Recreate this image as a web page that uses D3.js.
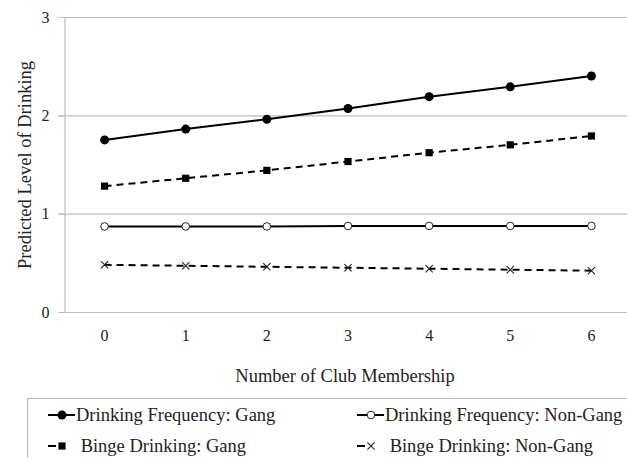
<!DOCTYPE html>
<html>
<head>
<meta charset="utf-8">
<script src="https://cdn.jsdelivr.net/npm/d3@7/dist/d3.min.js"></script>
<style>
  html, body { margin: 0; padding: 0; background: #fff; }
  svg { display: block; }
  text { font-family: "Liberation Serif", "Times New Roman", serif; fill: #222; }
</style>
</head>
<body>
<svg id="chart" width="627" height="458"></svg>
<script>
// Club membership counts on the x axis
const clubs = [0, 1, 2, 3, 4, 5, 6];
const yTicks = [0, 1, 2, 3];

// Predicted drinking levels per group
const freqGang    = [1.75, 1.86, 1.96, 2.07, 2.19, 2.29, 2.40];
const freqNonGang = [0.87, 0.87, 0.87, 0.875, 0.875, 0.875, 0.875];
const bingeGang   = [1.28, 1.36, 1.44, 1.53, 1.62, 1.70, 1.79];
const bingeNonGang= [0.48, 0.47, 0.46, 0.45, 0.44, 0.43, 0.42];

const seriesNames = [
  "Drinking Frequency: Gang",
  "Drinking Frequency: Non-Gang",
  "Binge Drinking: Gang",
  "Binge Drinking: Non-Gang"
];

const series = [
  { name: seriesNames[0], values: freqGang,     dash: null,  marker: "dot" },
  { name: seriesNames[1], values: freqNonGang,  dash: null,  marker: "ring" },
  { name: seriesNames[2], values: bingeGang,    dash: "7,5", marker: "square" },
  { name: seriesNames[3], values: bingeNonGang, dash: "7,5", marker: "cross" }
];

const svg = d3.select("#chart");
const plot = { left: 64, right: 632, top: 17, bottom: 312 };

const x = d3.scaleBand().domain(clubs).range([plot.left, plot.right]);
const y = d3.scaleLinear().domain([0, 3]).range([plot.bottom, plot.top]);
const cx = d => x(d) + x.bandwidth() / 2;

// Horizontal gridlines (including the baseline)
svg.append("g")
  .selectAll("line")
  .data(yTicks)
  .join("line")
  .attr("x1", plot.left - 6).attr("x2", plot.right)
  .attr("y1", d => y(d) + 0.5).attr("y2", d => y(d) + 0.5)
  .attr("stroke", "#bcbcbc").attr("stroke-width", 1.2);

// Y axis
const yAxis = svg.append("g")
  .attr("transform", `translate(${plot.left + 0.5},0)`)
  .call(d3.axisLeft(y).tickValues(yTicks).tickFormat(d3.format("d")).tickSize(6).tickPadding(9));
yAxis.select(".domain").attr("stroke", "#bcbcbc").attr("stroke-width", 1.2);
yAxis.selectAll(".tick line").attr("stroke", "#bcbcbc");
yAxis.selectAll(".tick text")
  .style("font-family", "'Liberation Serif', serif")
  .style("font-size", "16px").attr("fill", "#222");

// X axis labels
const xAxis = svg.append("g")
  .attr("transform", `translate(0,${plot.bottom})`)
  .call(d3.axisBottom(x).tickSize(0).tickPadding(18));
xAxis.select(".domain").remove();
xAxis.selectAll(".tick text")
  .style("font-family", "'Liberation Serif', serif")
  .style("font-size", "16px").attr("fill", "#222");

// Axis titles
svg.append("text")
  .attr("x", 345).attr("y", 382)
  .attr("text-anchor", "middle")
  .style("font-size", "18.5px")
  .text("Number of Club Membership");

svg.append("text")
  .attr("transform", `translate(31,165) rotate(-90)`)
  .attr("text-anchor", "middle")
  .style("font-size", "18.5px")
  .text("Predicted Level of Drinking");

// Marker drawing helper
function drawMarker(g, type, px, py) {
  if (type === "dot") {
    g.append("circle").attr("cx", px).attr("cy", py).attr("r", 4.5).attr("fill", "#000");
  } else if (type === "ring") {
    g.append("circle").attr("cx", px).attr("cy", py).attr("r", 3.8)
      .attr("fill", "#fff").attr("stroke", "#222").attr("stroke-width", 1);
  } else if (type === "square") {
    const h = 3.6;
    g.append("rect").attr("x", px - h).attr("y", py - h).attr("width", 2 * h).attr("height", 2 * h).attr("fill", "#000");
  } else if (type === "cross") {
    const h = 3.6;
    g.append("path")
      .attr("d", `M${px - h},${py - h}L${px + h},${py + h}M${px - h},${py + h}L${px + h},${py - h}`)
      .attr("stroke", "#222").attr("stroke-width", 1.1).attr("fill", "none");
  }
}

const line = d3.line().x((d, i) => cx(clubs[i])).y(d => y(d));

series.forEach(s => {
  const g = svg.append("g");
  g.append("path")
    .attr("d", line(s.values))
    .attr("fill", "none")
    .attr("stroke", "#000")
    .attr("stroke-width", 2)
    .attr("stroke-dasharray", s.dash);
  s.values.forEach((v, i) => drawMarker(g, s.marker, cx(clubs[i]), y(v)));
});

// Legend
const legend = svg.append("g");
legend.append("rect")
  .attr("x", 27.5).attr("y", 398.5).attr("width", 620).attr("height", 80)
  .attr("fill", "#fff").attr("stroke", "#bcbcbc").attr("stroke-width", 1.2);

const legendPos = [
  { x: 48, y: 415 }, { x: 357, y: 415 },
  { x: 48, y: 446 }, { x: 357, y: 446 }
];
series.forEach((s, i) => {
  const p = legendPos[i];
  const g = legend.append("g");
  g.append("line")
    .attr("x1", p.x).attr("x2", s.dash ? p.x + 8 : p.x + 27)
    .attr("y1", p.y).attr("y2", p.y)
    .attr("stroke", "#000").attr("stroke-width", 2);
  drawMarker(g, s.marker, p.x + 14, p.y);
  g.append("text")
    .attr("x", p.x + 28).attr("y", p.y + 6)
    .style("font-size", "18.5px")
    .text(s.dash ? "\u00a0" + s.name : s.name);
});
</script>
</body>
</html>
